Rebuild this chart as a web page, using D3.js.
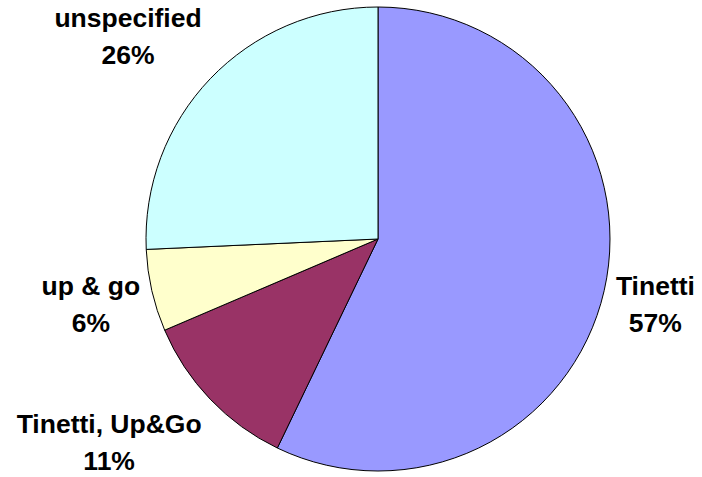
<!DOCTYPE html>
<html>
<head>
<meta charset="utf-8">
<script src="https://cdn.jsdelivr.net/npm/d3@7"></script>
<style>
    body { margin: 0; background: #fff; }
    text { font-family: "Liberation Sans", Arial, sans-serif; font-weight: bold; }
</style>
</head>
<body>
<div id="main"></div>
<script>
const ctx = {
    w: 702,
    h: 477,
    cx: 378,
    cy: 239,
    r: 232,
    labelGap: 12,
    fontSize: 26.5,
    lineGap: 37,
};

// counts per test
const CATEGORIES = ["Tinetti", "Tinetti, Up&Go", "up & go", "unspecified"];
const COUNTS = [20, 4, 2, 9];
const COLORS = ["#9999FF", "#993366", "#FFFFCC", "#CCFFFF"];

function createViz() {
    let svgEl = d3.select("#main").append("svg")
        .attr("width", ctx.w)
        .attr("height", ctx.h);

    let data = CATEGORIES.map((c, i) => ({ name: c, value: COUNTS[i], color: COLORS[i] }));
    let total = d3.sum(COUNTS);

    let pie = d3.pie().sort(null).value((d) => d.value);
    let arc = d3.arc().innerRadius(0).outerRadius(ctx.r);
    let arcs = pie(data);

    let g = svgEl.append("g")
        .attr("transform", `translate(${ctx.cx},${ctx.cy})`);

    g.selectAll("path")
        .data(arcs)
        .enter()
        .append("path")
        .attr("d", arc)
        .attr("fill", (d) => d.data.color)
        .attr("stroke", "#000")
        .attr("stroke-width", 1);

    // labels: two lines, block placed just outside the rim
    let capH = ctx.fontSize * 0.716;
    let bh = capH + ctx.lineGap;
    arcs.forEach(function (a) {
        let mid = (a.startAngle + a.endAngle) / 2;
        let s = Math.sin(mid), c = -Math.cos(mid);
        let px = (ctx.r + ctx.labelGap) * s;
        let py = (ctx.r + ctx.labelGap) * c;
        let lg = g.append("g");
        let t1 = lg.append("text")
            .attr("text-anchor", "middle")
            .attr("font-size", ctx.fontSize)
            .attr("y", 0)
            .text(a.data.name);
        lg.append("text")
            .attr("text-anchor", "middle")
            .attr("font-size", ctx.fontSize)
            .attr("y", ctx.lineGap)
            .text(Math.round(a.data.value / total * 100) + "%");
        let bw = t1.node().getComputedTextLength();
        let bx = px + Math.sign(s) * bw / 2;
        let by = py + c * bh * 0.9;
        // first baseline so that the block is centred on (bx, by)
        lg.attr("transform", `translate(${bx},${by - (ctx.lineGap - capH) / 2})`);
    });
}

createViz();
</script>
</body>
</html>
